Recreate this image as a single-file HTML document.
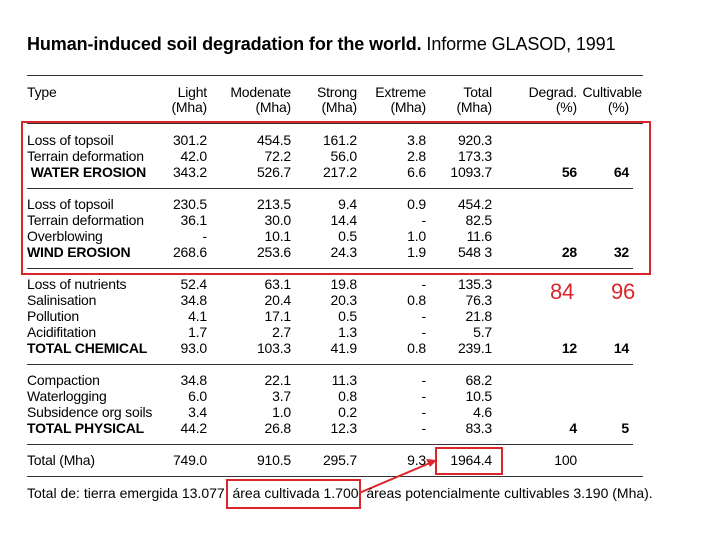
<!DOCTYPE html><html><head><meta charset="utf-8"><style>
body{margin:0;width:720px;height:540px;background:#fff;position:relative;font-family:"Liberation Sans",Arial,sans-serif;color:#000;overflow:hidden}
.t{position:absolute;font-size:14px;line-height:16px;white-space:nowrap;letter-spacing:-0.2px}
.r{text-align:right;width:80px}
.b{font-weight:bold}
.l{position:absolute;height:1px;background:#333}
.box{position:absolute;border:2px solid #d9262c}
</style></head><body>
<div class="t" style="left:27px;top:33px;font-size:18px;line-height:22px;letter-spacing:-0.1px">
<b>Human-induced soil degradation for the world.</b> Informe GLASOD, 1991</div>
<div class="l" style="left:27px;top:75px;width:616px"></div>
<div class="l" style="left:27px;top:123px;width:616px"></div>
<div class="l" style="left:27px;top:188px;width:606px"></div>
<div class="l" style="left:27px;top:268px;width:606px"></div>
<div class="l" style="left:27px;top:364px;width:606px"></div>
<div class="l" style="left:27px;top:444px;width:606px"></div>
<div class="l" style="left:27px;top:476px;width:616px"></div>
<div id="c"></div>
<div class="t" style="left:560px;top:84px;width:82px;text-align:right">Cultivable</div>
<div class="box" style="left:21px;top:121px;width:626px;height:150px"></div>
<div class="box" style="left:435px;top:447px;width:64px;height:24px"></div>
<div class="box" style="left:226px;top:479px;width:131px;height:26px"></div>
<svg style="position:absolute;left:0;top:0" width="720" height="540"><line x1="359" y1="493" x2="430" y2="463" stroke="#d9262c" stroke-width="2"/><polygon points="437,460 426,459 430,467" fill="#d9262c"/></svg>
<div class="t" style="left:550px;top:280px;font-size:22px;line-height:24px;color:#d9262c">84</div>
<div class="t" style="left:611px;top:280px;font-size:22px;line-height:24px;color:#d9262c">96</div>
<div class="t" style="left:27px;top:485px;letter-spacing:0">Total de: tierra emergida 13.077 &nbsp;área cultivada 1.700 &nbsp;áreas potencialmente cultivables 3.190 (Mha).</div>
<script>
var E=[207,291,357,426,492,577,629];
var rows=[
[84,["Type","Light","Modenate","Strong","Extreme","Total","Degrad.",""]],
[99,["","(Mha)","(Mha)","(Mha)","(Mha)","(Mha)","(%)","(%)"]],
[132,["Loss of topsoil","301.2","454.5","161.2","3.8","920.3"]],
[148,["Terrain deformation","42.0","72.2","56.0","2.8","173.3"]],
[164,[" WATER EROSION","343.2","526.7","217.2","6.6","1093.7","56","64"],1],
[196,["Loss of topsoil","230.5","213.5","9.4","0.9","454.2"]],
[212,["Terrain deformation","36.1","30.0","14.4","-","82.5"]],
[228,["Overblowing","-","10.1","0.5","1.0","11.6"]],
[244,["WIND EROSION","268.6","253.6","24.3","1.9","548 3","28","32"],1],
[276,["Loss of nutrients","52.4","63.1","19.8","-","135.3"]],
[292,["Salinisation","34.8","20.4","20.3","0.8","76.3"]],
[308,["Pollution","4.1","17.1","0.5","-","21.8"]],
[324,["Acidifitation","1.7","2.7","1.3","-","5.7"]],
[340,["TOTAL CHEMICAL","93.0","103.3","41.9","0.8","239.1","12","14"],1],
[372,["Compaction","34.8","22.1","11.3","-","68.2"]],
[388,["Waterlogging","6.0","3.7","0.8","-","10.5"]],
[404,["Subsidence org soils","3.4","1.0","0.2","-","4.6"]],
[420,["TOTAL PHYSICAL","44.2","26.8","12.3","-","83.3","4","5"],1],
[452,["Total (Mha)","749.0","910.5","295.7","9.3","1964.4","100"]]];
var h="";
rows.forEach(function(r){var y=r[0],c=r[1],b=r[2];
h+='<div class="t'+(b?' b':'')+'" style="left:27px;top:'+y+'px">'+c[0].replace(/^ /,'&nbsp;')+'</div>';
for(var i=1;i<c.length;i++){var bb=(b&&i>5);
h+='<div class="t r'+(bb?' b':'')+'" style="left:'+(E[i-1]-80)+'px;top:'+y+'px">'+c[i]+'</div>';}
});
document.getElementById("c").innerHTML=h;
</script>
</body></html>
